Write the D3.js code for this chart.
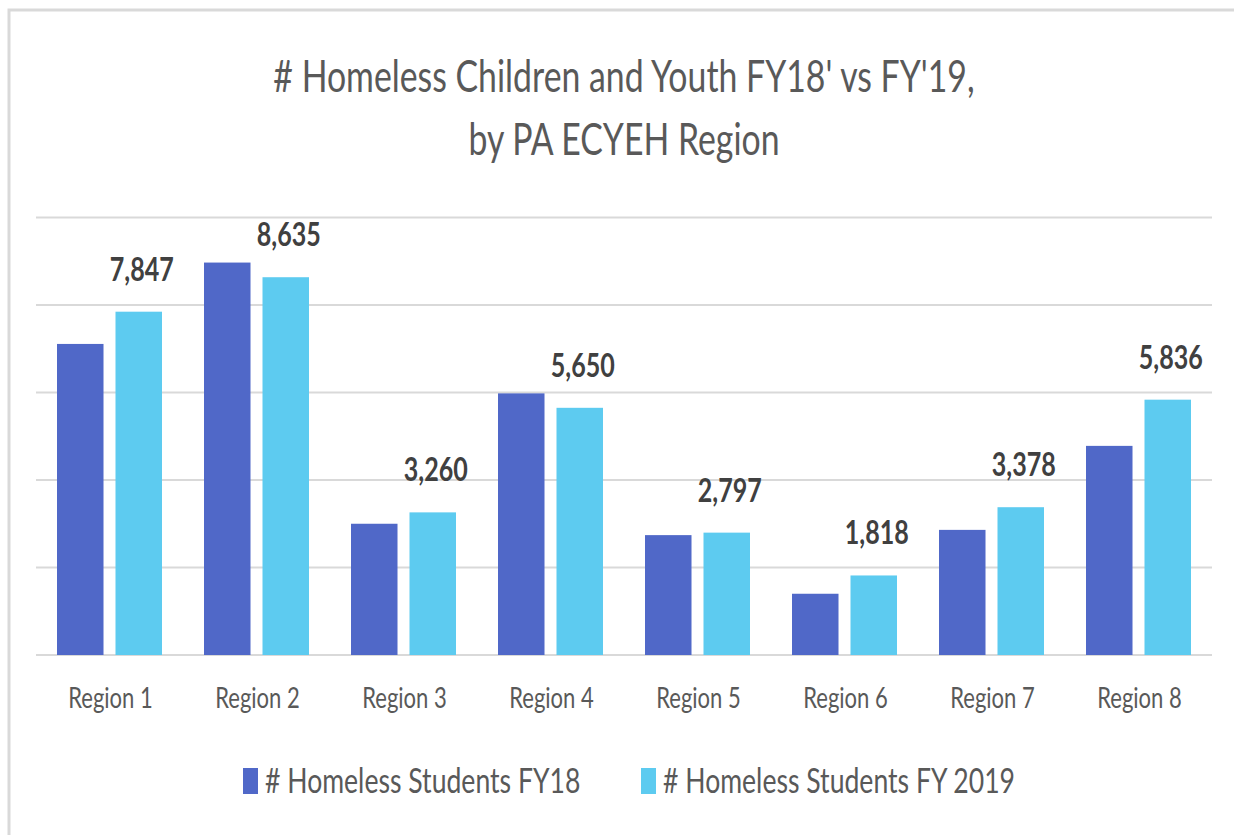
<!DOCTYPE html>
<html>
<head>
<meta charset="utf-8">
<script src="https://cdn.jsdelivr.net/npm/d3@7"></script>
<style>
  body { margin: 0; background: #fff; }
  svg { display: block; font-family: Lato, "Open Sans", sans-serif; }
</style>
</head>
<body>
<svg id="chart_svg" width="1234" height="835"></svg>
<script>
// data
const regions = ['Region 1', 'Region 2', 'Region 3', 'Region 4', 'Region 5', 'Region 6', 'Region 7', 'Region 8'];
const fy18 = [7110, 8970, 3000, 5980, 2740, 1400, 2860, 4780];
const fy19 = [7847, 8635, 3260, 5650, 2797, 1818, 3378, 5836];
const seriesNames = ['# Homeless Students FY18', '# Homeless Students FY 2019'];
const seriesColors = ['#5068c8', '#5dcbf0'];
const yTicks = [0, 2000, 4000, 6000, 8000, 10000];
const titleLines = ["# Homeless Children and Youth FY18' vs FY'19,", 'by PA ECYEH Region'];

const width = 1234;
const height = 835;
const SX = 0.76; // text in the reference is squeezed horizontally

const margin = { top: 217.5, bottom: 180, left: 36, right: 22 };

let svg = d3.select('#chart_svg');

svg.append('rect')
    .attr('x', 0).attr('y', 0)
    .attr('width', width).attr('height', height)
    .attr('fill', '#fff');

// outer chart frame
svg.append('rect')
    .attr('x', 9).attr('y', 10)
    .attr('width', 1260).attr('height', 860)
    .attr('fill', 'none')
    .attr('stroke', '#d9d9d9')
    .attr('stroke-width', 3);

function squeezedText(g, x, y, str) {
    return g.append('text')
        .attr('transform', `translate(${x},${y}) scale(${SX},1)`)
        .text(str);
}

/**
 * Scales
 */
const xScale = d3.scaleBand()
    .domain(regions)
    .range([margin.left, width - margin.right]);

const xInner = d3.scaleBand()
    .domain([0, 1])
    .range([21, 126])
    .paddingInner(0.205);

const yScale = d3.scaleLinear()
    .domain([0, 10000])
    .range([height - margin.bottom, margin.top]);

/**
 * Gridlines
 */
svg.append('g')
    .selectAll('line')
    .data(yTicks)
    .enter()
    .append('line')
    .attr('x1', margin.left)
    .attr('x2', width - margin.right)
    .attr('y1', (d) => yScale(d))
    .attr('y2', (d) => yScale(d))
    .attr('stroke', '#d9d9d9')
    .attr('stroke-width', 2);

/**
 * Bars
 */
const series = [fy18, fy19];
let g_bars = svg.append('g');
series.forEach((vals, si) => {
    g_bars.selectAll('.bar_' + si)
        .data(vals)
        .enter()
        .append('rect')
        .attr('class', 'bar_' + si)
        .attr('x', (d, i) => xScale(regions[i]) + xInner(si))
        .attr('width', xInner.bandwidth())
        .attr('y', (d) => yScale(d))
        .attr('height', (d) => yScale(0) - yScale(d))
        .attr('fill', seriesColors[si]);
});

/**
 * Data labels (FY 2019 only)
 */
let g_labels = svg.append('g')
    .attr('font-weight', 'bold')
    .attr('font-size', 33)
    .attr('fill', '#404040')
    .attr('text-anchor', 'middle');
fy19.forEach((d, i) => {
    squeezedText(g_labels,
        xScale(regions[i]) + xInner(1) + xInner.bandwidth() / 2 + 3,
        yScale(d) - 31,
        d3.format(',')(d));
});

/**
 * Category labels
 */
let g_cats = svg.append('g')
    .attr('font-size', 29)
    .attr('fill', '#595959')
    .attr('text-anchor', 'middle');
regions.forEach((r) => {
    squeezedText(g_cats, xScale(r) + xScale.bandwidth() / 2 + 1, 708, r);
});

/**
 * Title
 */
let g_title = svg.append('g')
    .attr('font-size', 44.5)
    .attr('fill', '#595959')
    .attr('text-anchor', 'middle');
titleLines.forEach((t, i) => {
    squeezedText(g_title, 624, 92 + i * 63, t);
});

/**
 * Legend
 */
let g_legend = svg.append('g')
    .attr('font-size', 35)
    .attr('fill', '#595959');
const legendX = [243, 641];
seriesNames.forEach((name, i) => {
    g_legend.append('rect')
        .attr('x', legendX[i])
        .attr('y', 768)
        .attr('width', 15)
        .attr('height', 26)
        .attr('fill', seriesColors[i]);
    squeezedText(g_legend, legendX[i] + 22, 793, name);
});
</script>
</body>
</html>
